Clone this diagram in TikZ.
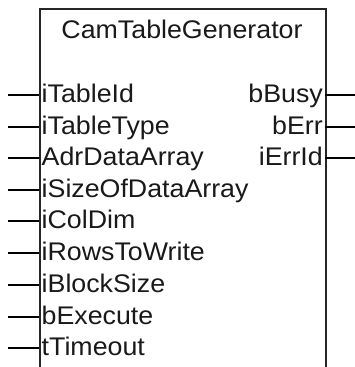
\documentclass[tikz,border=0pt]{standalone}
\usepackage{fontspec}
\setmainfont[FakeStretch=1.05]{Liberation Sans}
\begin{document}
\begin{tikzpicture}[x=1pt,y=-1pt,
  pin/.style={line width=1.4pt, draw=black},
  lbl/.style={font=\fontsize{25.5}{28}\selectfont, inner sep=0pt, text=black!90},
  fbbox/.style={line width=1.6pt, draw=black!85}]
\useasboundingbox (0,0) rectangle (355,367);
\begin{scope}
\clip (0,0) rectangle (355,367);
\node[fbbox, minimum width=286pt, minimum height=359pt, anchor=north west, inner sep=0pt] (box) at (39,8) {};
\end{scope}
\node[lbl, anchor=base] (title) at (182,38) {CamTableGenerator};
\foreach \name/\txt/\y in {a/iTableId/95, b/iTableType/127, c/AdrDataArray/158, d/iSizeOfDataArray/190, e/iColDim/221, f/iRowsToWrite/253, g/iBlockSize/285, h/bExecute/317, i/tTimeout/348} {
  \node[lbl, anchor=base west] (in\name) at (41.5,\y+7.5) {\txt};
  \coordinate (inS\name) at (8,\y);
  \coordinate (inE\name) at (39,\y);
  \draw[pin] (inS\name) -- (inE\name);
}
\foreach \name/\txt/\y in {a/bBusy/95, b/bErr/127, c/iErrId/158} {
  \node[lbl, anchor=base east] (out\name) at (323,\y+7.5) {\txt};
  \coordinate (outS\name) at (325,\y);
  \coordinate (outE\name) at (355,\y);
  \draw[pin] (outS\name) -- (outE\name);
}
\end{tikzpicture}
\end{document}
